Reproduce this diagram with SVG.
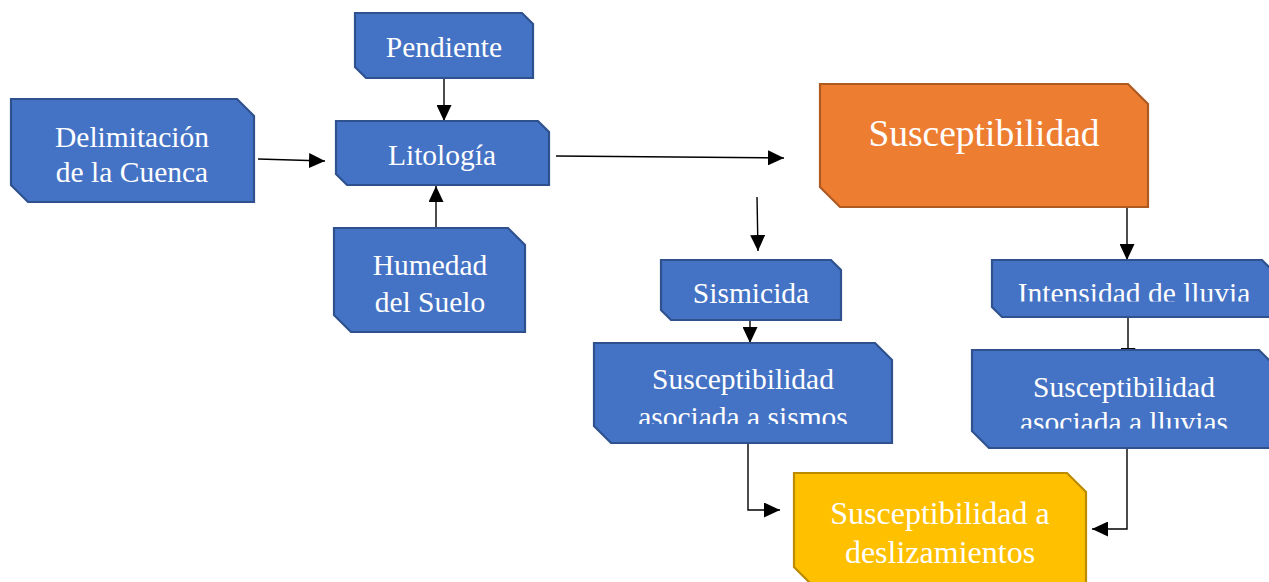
<svg xmlns="http://www.w3.org/2000/svg" width="1269" height="582" viewBox="0 0 1269 582">
<style>
.blue{fill:#4472C4;stroke:#2F528F;stroke-width:2.2}
.orange{fill:#ED7D31;stroke:#AE5A21;stroke-width:2.2}
.yellow{fill:#FFC000;stroke:#BC8C00;stroke-width:2.2}
text{font-family:"Liberation Serif","Times New Roman",serif;fill:#FFFFFF;text-anchor:middle;font-size:29.5px}
.big{font-size:37.5px}
.mid{font-size:32px}
.conn{fill:none;stroke:#000;stroke-width:1.4}
</style>
<defs>
<marker id="arr" viewBox="0 0 16 15" refX="16" refY="7.5" markerWidth="16" markerHeight="15" markerUnits="userSpaceOnUse" orient="auto">
<path d="M0,0 L16,7.5 L0,15 Z" fill="#000"/>
</marker>
<clipPath id="clipInt"><rect x="992" y="260" width="280" height="41.5"/></clipPath>
<clipPath id="clipSis"><rect x="594" y="343" width="298" height="81"/></clipPath>
<clipPath id="clipLlu"><rect x="972" y="350" width="304" height="78.5"/></clipPath>
</defs>
<g id="connectors">
<path class="conn" d="M258,159 L325,161" marker-end="url(#arr)"/>
<path class="conn" d="M444,78 L444,121" marker-end="url(#arr)"/>
<path class="conn" d="M436,228 L436,186" marker-end="url(#arr)"/>
<path class="conn" d="M556,156 L784,158" marker-end="url(#arr)"/>
<path class="conn" d="M757,197 L758,251" marker-end="url(#arr)"/>
<path class="conn" d="M1127,207 L1127,260" marker-end="url(#arr)"/>
<path class="conn" d="M750,320 L750,343" marker-end="url(#arr)"/>
<path class="conn" d="M1128,317 L1128,364" marker-end="url(#arr)"/>
<path class="conn" d="M748,443 L748,510 L780,510" marker-end="url(#arr)"/>
<path class="conn" d="M1127,448 L1127,529 L1092,529" marker-end="url(#arr)"/>
</g>
<g id="delimitacion">
<path class="blue" d="M11,99 H237 L254,116 V202 H28 L11,185 Z"/>
<text x="132" y="147">Delimitación</text>
<text x="132" y="182">de la Cuenca</text>
</g>
<g id="pendiente">
<path class="blue" d="M355,13 H522 L533,24 V78 H366 L355,67 Z"/>
<text x="444" y="57">Pendiente</text>
</g>
<g id="litologia">
<path class="blue" d="M336,121 H538 L549,132 V185 H347 L336,174 Z"/>
<text x="442" y="165">Litología</text>
</g>
<g id="humedad">
<path class="blue" d="M334,228 H508 L525,245 V332 H351 L334,315 Z"/>
<text x="430" y="275">Humedad</text>
<text x="430" y="312">del Suelo</text>
</g>
<g id="susceptibilidad">
<path class="orange" d="M820,84 H1128 L1148,104 V207 H840 L820,187 Z"/>
<text class="big" x="984" y="146">Susceptibilidad</text>
</g>
<g id="sismicida">
<path class="blue" d="M661,260 H831 L841,270 V320 H671 L661,310 Z"/>
<text x="751" y="303">Sismicida</text>
</g>
<g id="intensidad">
<path class="blue" d="M992,260 H1262 L1272,270 V317 H1002 L992,307 Z"/>
<text x="1134" y="303" clip-path="url(#clipInt)">Intensidad de lluvia</text>
</g>
<g id="sus-sismos">
<path class="blue" d="M594,343 H875 L892,360 V443 H611 L594,426 Z"/>
<text x="743" y="389">Susceptibilidad</text>
<text x="743" y="427" clip-path="url(#clipSis)">asociada a sismos</text>
</g>
<g id="sus-lluvias">
<path class="blue" d="M972,350 H1259 L1276,367 V448 H989 L972,431 Z"/>
<text x="1124" y="397">Susceptibilidad</text>
<text x="1124" y="432" clip-path="url(#clipLlu)">asociada a lluvias</text>
</g>
<g id="deslizamientos">
<path class="yellow" d="M794,473 H1067 L1086,492 V586 H813 L794,567 Z"/>
<text class="mid" x="940" y="524">Susceptibilidad a</text>
<text class="mid" x="940" y="563">deslizamientos</text>
</g>
</svg>
